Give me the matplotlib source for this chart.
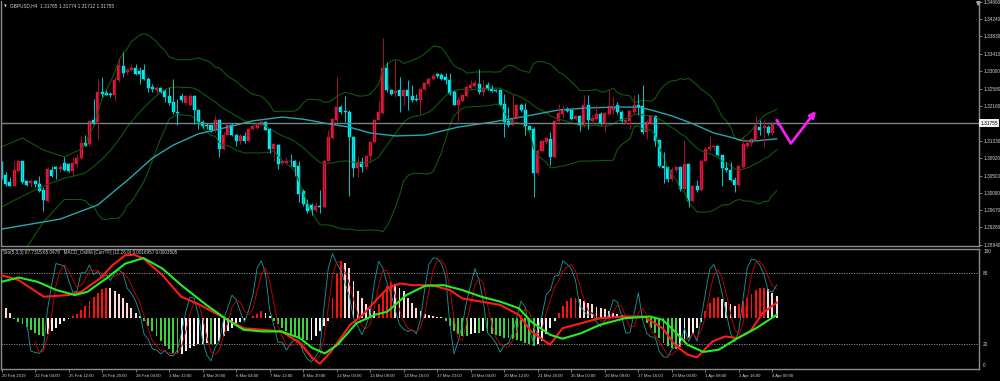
import numpy as np
import pandas as pd
import matplotlib
matplotlib.use('Agg')
import matplotlib.pyplot as plt
from matplotlib.transforms import blended_transform_factory

# ---------------- data (prices in 1e-4 units) ----------------
opens_p = [13082,13052,13034,13026,13062,13084,13036,13032,13036,13030,13016,12990,13064,13070,13065,13080,13078,13062,13078,13092,
           13128,13126,13182,13178,13249,13248,13246,13242,13278,13312,13297,13302,13308,13300,13302,13282,13262,13254,13260,13252,
           13240,13226,13202,13241,13224,13220,13240,13206,13178,13172,13170,13158,13184,13114,13148,13172,13148,13132,13144,13132,
           13161,13164,13172,13178,13162,13114,13124,13080,13081,13086,13084,13072,13014,12982,12980,12968,12978,12974,13086,13140,
           13184,13214,13204,13202,13142,13068,13082,13070,13096,13130,13184,13200,13308,13254,13248,13254,13240,13254,13240,13234,
           13230,13256,13268,13280,13292,13290,13286,13278,13250,13220,13228,13240,13260,13265,13270,13250,13266,13260,13254,13254,
           13222,13180,13170,13188,13220,13206,13168,13162,13056,13110,13130,13138,13094,13180,13198,13210,13206,13186,13192,13172,
           13218,13180,13186,13198,13174,13198,13206,13218,13202,13178,13180,13202,13220,13216,13154,13176,13192,13134,13074,13070,
           13042,13064,13070,13018,13078,12990,13026,13016,13086,13114,13118,13120,13100,13068,13064,13040,13028,13070,13120,13128,
           13136,13166,13164,13166,13152,13176.5]
highs_p = [13086,13058,13046,13084,13088,13086,13040,13042,13040,13048,13022,13070,13074,13074,13078,13094,13080,13094,13102,13144,
           13146,13184,13234,13280,13286,13254,13250,13286,13332,13346,13308,13316,13316,13310,13316,13286,13270,13264,13262,13256,
           13262,13282,13234,13248,13242,13246,13242,13208,13182,13176,13172,13194,13186,13154,13176,13176,13150,13150,13154,13164,
           13174,13178,13182,13180,13164,13128,13126,13086,13094,13102,13088,13084,13018,12994,12984,12986,13016,13090,13158,13188,
           13286,13218,13240,13206,13144,13098,13094,13100,13132,13186,13228,13378,13322,13258,13326,13286,13256,13278,13266,13246,
           13260,13274,13286,13296,13296,13296,13296,13296,13254,13238,13244,13264,13278,13278,13306,13278,13274,13266,13258,13256,
           13246,13214,13246,13222,13224,13224,13170,13166,13114,13134,13142,13154,13184,13222,13218,13214,13210,13194,13194,13242,
           13242,13194,13218,13202,13202,13256,13238,13226,13206,13186,13206,13242,13246,13266,13182,13194,13194,13136,13106,13074,
           13070,13074,13074,13134,13080,13028,13040,13090,13120,13144,13124,13124,13100,13082,13082,13046,13076,13142,13138,13140,
           13192,13184,13182,13170,13178,13177.4]
lows_p = [13042,13026,13024,13024,13058,13030,13026,13022,13022,13010,12966,12988,13046,13042,13058,13062,13058,13048,13070,13090,
          13120,13122,13174,13138,13238,13242,13238,13228,13274,13286,13294,13300,13290,13270,13278,13250,13250,13246,13248,13226,
          13220,13198,13170,13226,13220,13216,13174,13162,13164,13162,13154,13154,13094,13112,13146,13144,13120,13126,13128,13130,
          13158,13162,13170,13158,13104,13084,13066,13076,13080,13072,13050,12986,12978,12960,12956,12962,12960,12972,13082,13138,
          13178,13198,13178,13002,13046,13046,13058,13066,13082,13128,13182,13198,13250,13242,13238,13202,13218,13206,13226,13228,
          13198,13252,13264,13278,13284,13278,13270,13242,13218,13180,13226,13238,13258,13262,13246,13240,13254,13250,13249,13218,
          13142,13166,13168,13186,13202,13148,13158,13000,13052,13106,13126,13076,13092,13178,13188,13202,13182,13182,13156,13166,
          13162,13174,13182,13172,13154,13196,13198,13198,13178,13174,13162,13198,13194,13150,13138,13172,13122,13070,13032,13034,
          13038,13058,13014,13016,12974,12988,13010,13012,13084,13108,13112,13098,13024,13058,13036,13010,13026,13068,13118,13122,
          13134,13148,13118,13146,13148,13171.2]
closes_p = [13046,13030,13026,13064,13084,13034,13028,13036,13030,13014,12992,13066,13048,13065,13070,13064,13062,13080,13092,13128,
            13122,13180,13176,13250,13246,13244,13242,13278,13314,13296,13302,13308,13294,13294,13282,13260,13257,13260,13250,13238,
            13224,13202,13200,13230,13240,13241,13206,13178,13168,13168,13158,13184,13114,13148,13172,13146,13132,13144,13132,13162,
            13168,13172,13178,13160,13114,13126,13078,13084,13086,13084,13070,13006,12982,12966,12968,12978,12974,13086,13142,13186,
            13214,13202,13201,13142,13068,13082,13070,13098,13130,13184,13202,13308,13254,13246,13252,13240,13254,13240,13232,13230,
            13258,13272,13280,13288,13288,13282,13278,13246,13220,13230,13242,13262,13267,13272,13250,13260,13258,13252,13252,13220,
            13178,13170,13188,13220,13206,13168,13160,13056,13110,13132,13140,13094,13180,13200,13206,13204,13186,13192,13172,13218,
            13182,13188,13198,13176,13200,13216,13214,13202,13180,13184,13204,13220,13214,13154,13178,13192,13132,13072,13068,13042,
            13064,13070,13018,13078,12990,13026,13016,13086,13114,13118,13120,13100,13068,13064,13040,13028,13074,13126,13128,13138,
            13170,13160,13168,13152,13176,13175.5]

# slow moving average (cyan), read at sample bars
ma_idx = [0, 7, 14, 23, 31, 36, 41, 47, 51, 56, 60, 67, 72, 78, 83, 88, 94, 101, 109, 117, 124, 133, 140, 147, 152, 155,
          160, 165, 170, 174, 177, 180, 185]
ma_val = [1.2922, 1.2934, 1.2946, 1.2980, 1.3047, 1.3092, 1.3123, 1.3150, 1.3159, 1.3171, 1.3181, 1.3190, 1.3185, 1.3174,
          1.3166, 1.3152, 1.3145, 1.3147, 1.3166, 1.3178, 1.3190, 1.3207, 1.3212, 1.3214, 1.3214, 1.3207, 1.3193, 1.3174,
          1.3152, 1.3142, 1.3133, 1.3133, 1.3138]

# Bollinger band values before the first full 20-bar window
bb_head_idx = [0, 5, 10, 15]
bb_head_up = [1.3119, 1.3140, 1.3111, 1.3095]
bb_head_mid = [1.2975, 1.3001, 1.3025, 1.3044]
bb_head_lo = [1.2831, 1.2862, 1.2939, 1.2993]

# OsMA histogram (1e-5 units)
osma_e5 = [24.3, 16.2, 8.1,
           -2.7, -6.5, -10.8, -15.1, -20.5, -24.3, -28.1, -30.2, -27.0, -21.6, -16.2, -10.8, -5.4, -2.2,
           2.7, 6.5, 11.9, 18.9, 27.0, 33.5, 40.5, 45.9, 48.6, 47.5, 43.2, 37.8, 32.4, 24.3, 16.2, 8.1, 2.7,
           -5.4, -13.5, -21.6, -29.7, -37.8, -45.9, -51.3, -56.7, -59.4, -58.3, -54.0, -48.6, -45.9, -43.2, -42.1,
           -40.5, -43.2, -42.1, -37.8, -29.7, -21.6, -16.2, -10.8, -6.5, -3.2, -1.1,
           2.7, 6.5, 10.8, 8.1, 2.7,
           -5.4, -10.8, -16.2, -21.6, -25.9, -29.7, -32.4, -35.1, -36.7, -35.6, -29.7, -21.6, -13.5, -5.4,
           32.4, 70.2, 91.8, 89.1, 81.0, 59.4, 43.2, 32.4, 21.6, 13.5,
           10.8, 21.6, 37.8, 51.3, 58.3, 54.0, 48.6, 43.2, 32.4, 24.3, 16.2, 10.8, 6.5, 4.3, 2.7, 1.6, 1.1,
           -5.4, -13.5, -21.6, -27.0, -29.7, -29.7, -27.0, -24.3, -24.3, -21.6, -22.7, -25.9, -28.1, -29.7, -32.4,
           -33.5, -35.1, -36.7, -37.8, -40.5, -43.2, -45.9, -43.2, -37.8, -27.0, -16.2, -5.4,
           8.1, 18.9, 27.0, 31.3, 32.4, 29.7, 27.0, 24.3, 21.6, 17.3, 15.1, 13.5, 10.8, 8.1, 5.4, 4.3, 3.2, 2.2, 1.6, 1.1,
           -2.7, -8.1, -16.2, -24.3, -32.4, -40.5, -45.9, -49.7, -51.3, -47.5, -40.5, -32.4, -24.3, -16.2, -6.5,
           10.8, 24.3, 32.4, 33.5, 29.7, 25.9, 21.6, 18.9, 21.6, 27.0, 32.4, 38.9, 44.3, 47.5, 48.6, 45.9, 40.5, 35.1]

# thick MACD lines of the lower window (window 0-100 scale)
macd_red_idx = [0, 4.1, 10.1, 16, 19, 23.5, 26.5, 29.5, 31.7, 33.9, 38.4, 42.9, 47.4, 53.3, 57.8, 62.3, 66.8, 71.2, 74.2, 76,
                78.7, 83.2, 86.2, 89.1, 92.1, 95.1, 98.1, 102.6, 107, 110, 114.5, 119, 123.5, 126.4, 130.9, 133.9, 136.9,
                142.8, 148.8, 153.3, 157.8, 160.7, 163.7, 166, 169.7, 172.7, 175.7, 178.7, 181.6, 185]
macd_red_val = [78.0, 73.9, 60.0, 61.4, 64.1, 75.3, 86.4, 94.7, 95.2, 91.9, 78.0, 60.0, 53.1, 42.0, 33.6, 32.3, 30.9, 21.1,
                8.6, 3.9, 14.2, 36.4, 44.8, 55.9, 67.0, 71.1, 69.7, 69.7, 65.6, 58.6, 55.9, 53.1, 44.8, 30.9, 19.8, 33.6,
                36.4, 42.0, 43.4, 43.4, 33.6, 19.8, 11.5, 9.2, 22.5, 26.7, 25.3, 30.9, 46.2, 55.0]
macd_green_idx = [0, 4.1, 8.6, 13.1, 17.5, 20.5, 25, 29.5, 33.9, 38.4, 42.9, 48.9, 53.3, 57.8, 62.3, 66.8, 71.2, 74.2, 77.2,
                  80.2, 84.7, 89.1, 92.1, 96.6, 101.1, 105.5, 110, 114.5, 119, 123.5, 126.4, 130.9, 133.9, 138.4, 142.8,
                  148.8, 154.8, 157.8, 160.7, 163.7, 167.5, 171.2, 175.7, 180.1, 185]
macd_green_val = [72.5, 76.1, 72.5, 65.6, 61.4, 64.1, 75.3, 87.7, 92.4, 83.6, 69.7, 53.1, 42.0, 32.3, 30.9, 30.9, 25.3, 17.0,
                  12.5, 19.8, 37.8, 44.8, 47.5, 61.4, 69.1, 69.7, 65.6, 60.0, 55.9, 50.3, 39.2, 28.1, 24.8, 29.5, 36.4,
                  42.0, 43.4, 40.6, 30.9, 19.8, 13.7, 15.6, 25.3, 33.6, 44.8]

price_ticks = [1.34660, 1.34240, 1.33830, 1.33410, 1.33000, 1.32580, 1.32160, 1.31330, 1.30920, 1.30500,
               1.30090, 1.29670, 1.29260, 1.28840]
time_tick_idx = list(range(0, 185, 8))
time_labels = ['20 Feb 2019', '22 Feb 04:00', '25 Feb 12:00', '26 Feb 20:00', '28 Feb 04:00', '1 Mar 12:00',
               '4 Mar 20:00', '6 Mar 04:00', '7 Mar 12:00', '8 Mar 20:00', '12 Mar 00:00', '13 Mar 08:00',
               '14 Mar 16:00', '17 Mar 23:00', '19 Mar 04:00', '20 Mar 12:00', '21 Mar 20:00', '25 Mar 00:00',
               '26 Mar 08:00', '27 Mar 16:00', '29 Mar 00:00', '1 Apr 08:00', '2 Apr 16:00', '4 Apr 00:00']
current_price = 1.31755
arrow_x = [184.9, 188.4, 194.4]
arrow_y = [1.3185, 1.3127, 1.3205]
header_text = 'GBPUSD,H4  1.31765 1.31774 1.31712 1.31755'
ind_header = 'Sto(5,3,3) 67.7315 65.0478   MACD_OsMA [CurrTF] (12,26,9) 0.0016957 0.0003505'

# ---------------- derived ----------------
o = np.array(opens_p) / 1e4
h = np.array(highs_p) / 1e4
l = np.array(lows_p) / 1e4
c = np.array(closes_p) / 1e4
n = len(c)
idx = np.arange(n)

cs = pd.Series(c)
mid = cs.rolling(20).mean().values
sd = cs.rolling(20).std(ddof=0).values
bx = np.concatenate([bb_head_idx, idx[19:]])
bup = np.concatenate([bb_head_up, (mid + 2 * sd)[19:]])
bmid = np.concatenate([bb_head_mid, mid[19:]])
blo = np.concatenate([bb_head_lo, (mid - 2 * sd)[19:]])

hh = pd.Series(h).rolling(5).max()
ll = pd.Series(l).rolling(5).min()
stk = 100 * (cs - ll).rolling(3).sum() / (hh - ll).rolling(3).sum()
std_ = stk.rolling(3).mean()

osma = np.array(osma_e5) * 1e-5
prev = np.concatenate([[osma[0]], osma[:-1]])
hcol = np.where(osma >= 0,
                np.where(osma >= prev, '#ff1010', '#ffd8d8'),
                np.where(osma <= prev, '#3ad33a', '#f4f4f4'))

# ---------------- figure ----------------
plt.rcParams['font.family'] = ['Liberation Sans', 'DejaVu Sans']
W, H = 1000, 381
fig = plt.figure(figsize=(W / 100, H / 100), dpi=100, facecolor='black')


def px_axes(left, top, right, bottom):
    return fig.add_axes([left / W, 1 - bottom / H, (right - left) / W, (bottom - top) / H])


GRAY = '#8c8c8c'
TXT = '#d2d2d2'
ax1 = px_axes(1, 1, 979, 246)
ax2 = px_axes(1, 249, 979, 369)
for ax in (ax1, ax2):
    ax.set_facecolor('black')
    for s in ax.spines.values():
        s.set_color(GRAY)
        s.set_linewidth(1.0)
ax1.spines['top'].set_visible(False)
xl = (-0.12, 233.3)

# main window
ax1.set_xlim(*xl)
ax1.set_ylim(1.28816, 1.34677)
ax1.plot(bx, bup, color='#0c5a0c', lw=0.8)
ax1.plot(bx, bmid, color='#0c5a0c', lw=0.8)
ax1.plot(bx, blo, color='#0c5a0c', lw=0.8)
ax1.plot(ma_idx, ma_val, color='#22a9b0', lw=1.0)
ax1.axhline(current_price, color='#76838a', lw=1.0)

bull = c >= o
body_col = np.where(bull, '#e0173f', '#00f0f4')
wick_col = np.where(bull, '#a3102c', '#00c2c6')
ax1.vlines(idx, l, h, colors=wick_col, lw=0.75)
ax1.bar(idx, np.abs(c - o), bottom=np.minimum(o, c), width=0.72, color=body_col,
        edgecolor=body_col, linewidth=0.3)

ax1.plot(arrow_x[:2], arrow_y[:2], color='#f020f0', lw=2.0, solid_capstyle='butt')
ax1.annotate('', xy=(arrow_x[2], arrow_y[2]), xytext=(arrow_x[1], arrow_y[1]),
             arrowprops=dict(arrowstyle='-|>', color='#f020f0', lw=2.0, mutation_scale=9,
                             shrinkA=0, shrinkB=0))

ax1.yaxis.tick_right()
ax1.set_yticks(price_ticks)
ax1.set_yticklabels(['%.5f' % v for v in price_ticks])
ax1.tick_params(axis='y', colors=GRAY, labelcolor=TXT, labelsize=3.4, length=2, width=0.6, pad=1.5)
ax1.set_xticks([])
tr = blended_transform_factory(ax1.transAxes, ax1.transData)
ax1.text(1.0016, current_price, '%.5f' % current_price, transform=tr, fontsize=3.4, color='black',
         va='center', ha='left', bbox=dict(boxstyle='square,pad=0.25', fc='#f0f0f0', ec='none'))
ax1.plot([0.9985], [0.992], marker='v', ms=2.5, color='#b0b0b0', transform=ax1.transAxes, clip_on=False)

# indicator window
ax2.set_xlim(*xl)
ax2.set_ylim(-0.000831, 0.001113)
ax2.bar(idx, osma, width=0.45, color=hcol, linewidth=0)
ax2.set_yticks([])
ax2.set_xticks(time_tick_idx)
ax2.set_xticklabels(time_labels)
ax2.tick_params(axis='x', colors=GRAY, labelcolor=TXT, labelsize=3.1, length=2.5, width=0.6, pad=1.2)
for lb in ax2.get_xticklabels():
    lb.set_ha('left')

axs = ax2.twinx()
axs.set_xlim(*xl)
axs.set_ylim(-0.58, 99.42)
for s in axs.spines.values():
    s.set_visible(False)
axs.axhline(80, color='#9a9a9a', lw=0.6, ls=(0, (1.5, 1.5)))
axs.axhline(20, color='#9a9a9a', lw=0.6, ls=(0, (1.5, 1.5)))
axs.plot(idx, stk, color='#1a9c9c', lw=0.6)
axs.plot(idx, std_, color='#d00000', lw=0.6)
axs.plot(macd_red_idx, macd_red_val, color='#ff1a1a', lw=1.5)
axs.plot(macd_green_idx, macd_green_val, color='#22ee22', lw=1.5)
axs.set_yticks([0, 20, 80, 100])
axs.set_yticklabels(['0', '20', '80', '100'])
axs.tick_params(axis='y', colors=GRAY, labelcolor=TXT, labelsize=3.4, length=0, pad=3)
tl = axs.get_yticklabels()
tl[0].set_va('bottom')
tl[3].set_va('top')

fig.text(3.5 / W, 1 - 6 / H, '\u25bc', color='#d0d0d0', fontsize=2.6, va='center', ha='left',
         family='DejaVu Sans')
fig.text(10 / W, 1 - 6 / H, header_text, color=TXT, fontsize=3.4, va='center', ha='left')
fig.text(3 / W, 1 - 252.5 / H, ind_header, color=TXT, fontsize=3.3, va='center', ha='left')

fig.savefig('out.png', dpi=100, facecolor='black')
